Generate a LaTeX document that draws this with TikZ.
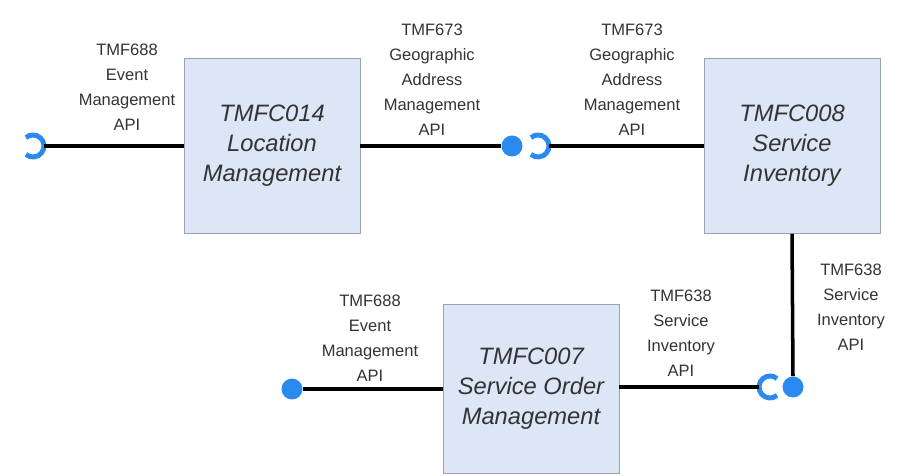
\documentclass[tikz,border=0pt]{standalone}
\usepackage{fontspec}
\setmainfont{Liberation Sans}
\usetikzlibrary{positioning, calc}
\definecolor{odablue}{HTML}{2B8AEF}
\definecolor{odafill}{HTML}{DDE6F6}
\definecolor{odaedge}{HTML}{9AA3B0}
\definecolor{odatext}{HTML}{333333}

\begin{document}
\begin{tikzpicture}[x=0.02cm, y=-0.02cm,
  comp/.style={draw=odaedge, fill=odafill, minimum width=3.52cm, minimum height=3.5cm,
    align=center, text=odatext, font=\fontsize{13.5}{17}\selectfont\itshape},
  api/.style={align=center, text=odatext, font=\fontsize{9.4}{14.2}\selectfont},
  wire/.style={line width=2pt, draw=black},
  ball/.style={circle, fill=odablue, minimum size=0.42cm, inner sep=0pt},
  socket/.style={line width=2.8pt, draw=odablue}]
  \useasboundingbox (0,0) rectangle (897,476);

  % components
  \node[comp] (loc) at (272,146) {TMFC014\\Location\\Management};
  \node[comp] (inv) at (792,146) {TMFC008\\Service\\Inventory};
  \node[comp, minimum height=3.38cm] (ord) at (531,389) {TMFC007\\Service Order\\Management};

  % exposed / consumed interfaces
  \node[ball] (gaBall) at (512,146) {};
  \node[ball] (siBall) at (793,387) {};
  \node[ball] (evBall) at (292,389) {};
  \coordinate (evSock) at (44,146);
  \coordinate (gaSock) at (549,146);
  \coordinate (siSock) at (759,387);

  % sockets (open towards the ball)
  \draw[socket] (33,146) ++(130:11) arc[start angle=130, end angle=-130, radius=11];
  \draw[socket] (538,146) ++(130:11) arc[start angle=130, end angle=-130, radius=11];
  \draw[socket] (770,387) ++(50:11) arc[start angle=50, end angle=310, radius=11];

  % wires
  \draw[wire] (evSock) -- (loc.west);
  \draw[wire] (loc.east) -- (gaBall.west);
  \draw[wire] (gaSock) -- (inv.west);
  \draw[wire] (inv.south) -- (siBall.north);
  \draw[wire] (ord.east |- siSock) -- (siSock);
  \draw[wire] (evBall.east) -- (ord.west |- evBall);

  % API labels
  \node[api] (lblEv1) at (127,87) {TMF688\\Event\\Management\\API};
  \node[api] (lblGa1) at (432,80) {TMF673\\Geographic\\Address\\Management\\API};
  \node[api] (lblGa2) at (632,80) {TMF673\\Geographic\\Address\\Management\\API};
  \node[api] (lblSi1) at (851,307) {TMF638\\Service\\Inventory\\API};
  \node[api] (lblEv2) at (370,338) {TMF688\\Event\\Management\\API};
  \node[api] (lblSi2) at (681,333) {TMF638\\Service\\Inventory\\API};
\end{tikzpicture}
\end{document}
